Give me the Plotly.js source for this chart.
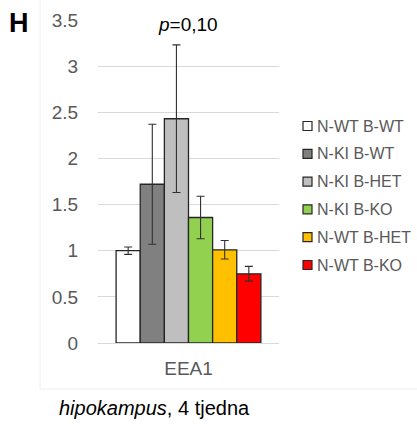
<!DOCTYPE html>
<html>
<head>
<meta charset="utf-8">
<script src="https://cdn.plot.ly/plotly-3.0.1.min.js"></script>
<style>
html,body{margin:0;padding:0;background:#fff;}
#chart{width:417px;height:424px;}
</style>
</head>
<body>
<div id="chart"></div>
<script>
const category = ["EEA1"];
const groups = ["N-WT B-WT", "N-KI B-WT", "N-KI B-HET", "N-KI B-KO", "N-WT B-HET", "N-WT B-KO"];
const means = [1.00, 1.72, 2.43, 1.36, 1.01, 0.75];
const errors = [0.04, 0.65, 0.80, 0.23, 0.10, 0.08];
const colors = ["#ffffff", "#808080", "#bfbfbf", "#92d050", "#ffc000", "#ff0000"];
const yTicks = [0, 0.5, 1, 1.5, 2, 2.5, 3, 3.5];
const yTickText = ["0", "0.5", "1", "1.5", "2", "2.5", "3", "3.5"];
const pText = "<i>p</i>=0,10";
const panelLabel = "H";
const caption = "<i>hipokampus</i>, 4 tjedna";

const FONT = "Liberation Sans, Arial, sans-serif";
const GREY = "#595959";

const traces = groups.map((g, i) => ({
  type: "bar",
  name: g,
  x: category,
  y: [means[i]],
  marker: {color: colors[i], line: {color: "#262626", width: 1.3}},
  error_y: {type: "data", array: [errors[i]], visible: true, color: "#303030", thickness: 1.1, width: 4},
  showlegend: false
}));

// plot area in px
const W = 417, H = 424;
const L = 98, R = 138, T = 20, B = 81;
const pw = W - L - R, ph = H - T - B;
const px = x => (x - L) / pw;
const py = y => (H - B - y) / ph;

const shapes = [];
const annotations = [];
// legend (manual)
const legY0 = 126, legStep = 27.8;
groups.forEach((g, i) => {
  const cy = legY0 + i * legStep;
  shapes.push({type: "rect", xref: "paper", yref: "paper",
    x0: px(303), x1: px(312), y0: py(cy - 4.5), y1: py(cy + 4.5),
    fillcolor: colors[i], line: {color: "#262626", width: 1.2}});
  annotations.push({xref: "paper", yref: "paper", x: px(315), y: py(cy),
    xanchor: "left", yanchor: "middle", showarrow: false, text: g,
    font: {family: FONT, size: 16, color: GREY}});
});
// faint chart border
shapes.push({type: "line", xref: "paper", yref: "paper", x0: px(40), x1: px(40), y0: py(0), y1: py(389), line: {color: "#eeeeee", width: 1}});
shapes.push({type: "line", xref: "paper", yref: "paper", x0: px(40), x1: px(417), y0: py(389), y1: py(389), line: {color: "#eeeeee", width: 1}});

annotations.push({xref: "paper", yref: "paper", x: px(188), y: py(24), xanchor: "center", yanchor: "middle",
  showarrow: false, text: pText, font: {family: FONT, size: 19, color: "#000"}});
annotations.push({xref: "paper", yref: "paper", x: px(19), y: py(23), xanchor: "center", yanchor: "middle",
  showarrow: false, text: "<b>" + panelLabel + "</b>", font: {family: FONT, size: 27, color: "#000"}});
annotations.push({xref: "paper", yref: "paper", x: px(154), y: py(408), xanchor: "center", yanchor: "middle",
  showarrow: false, text: caption, font: {family: FONT, size: 20, color: "#000"}});

const layout = {
  width: W, height: H,
  margin: {l: L, r: R, t: T, b: B, pad: 0},
  paper_bgcolor: "#fff", plot_bgcolor: "#fff",
  barmode: "group", bargap: 0.2, bargroupgap: 0,
  showlegend: false,
  xaxis: {type: "category", showgrid: false, zeroline: false, showline: true, linecolor: "#d9d9d9", linewidth: 1,
    ticks: "outside", ticklen: 8, tickcolor: "rgba(0,0,0,0)",
    tickfont: {family: FONT, size: 19, color: GREY}, fixedrange: true},
  yaxis: {range: [0, 3.5], tickvals: yTicks, ticktext: yTickText, showgrid: true, gridcolor: "#d9d9d9", gridwidth: 1,
    zeroline: false, showline: false, ticks: "outside", ticklen: 15, tickcolor: "rgba(0,0,0,0)",
    tickfont: {family: FONT, size: 19, color: GREY}, fixedrange: true},
  shapes: shapes,
  annotations: annotations,
  font: {family: FONT}
};

Plotly.newPlot("chart", traces, layout, {displayModeBar: false, staticPlot: true});
</script>
</body>
</html>
